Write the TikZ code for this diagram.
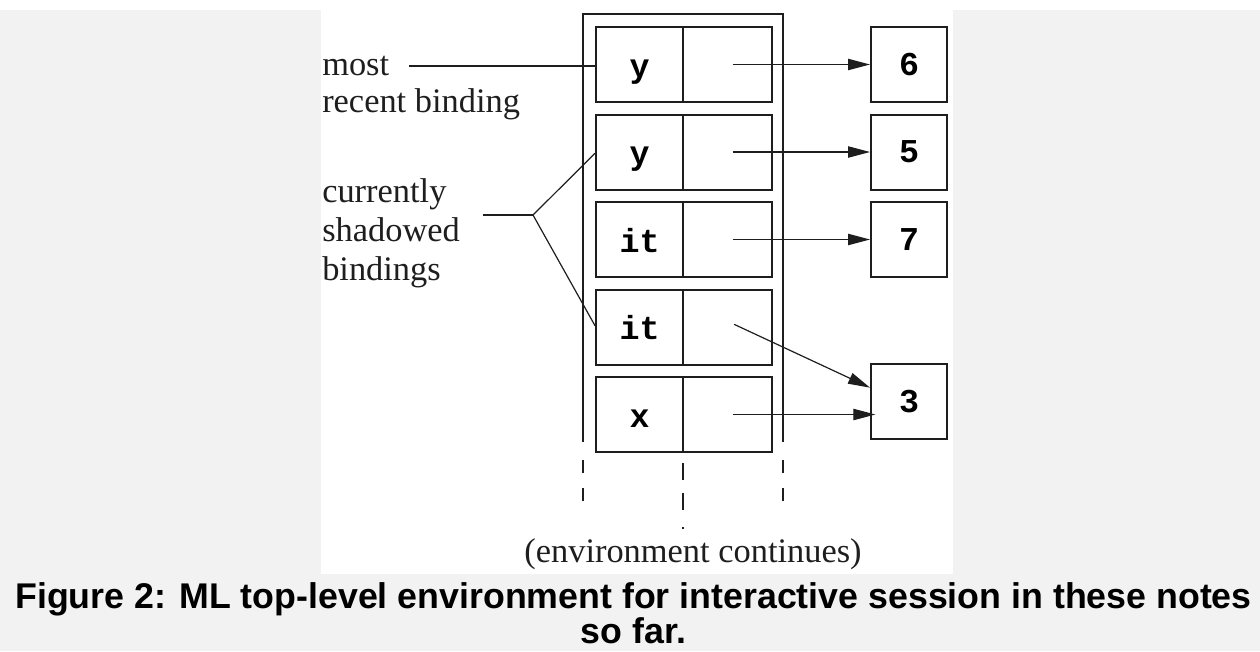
\documentclass[tikz,border=0pt]{standalone}
\usepackage{fontspec}
\setmainfont{Liberation Serif}
\setmonofont{Liberation Mono}
\newfontfamily\capfont{Liberation Sans}
\usetikzlibrary{arrows.meta,calc}
\definecolor{pagegray}{HTML}{F2F2F2}
\definecolor{ink}{HTML}{1E1E1E}
\begin{document}
\begin{tikzpicture}[x=0.75pt,y=-0.75pt,
  boxline/.style={draw=ink,line width=1.5pt},
  namecell/.style={boxline,inner sep=0pt,minimum width=65.25pt,minimum height=56.25pt,
     font=\ttfamily\bfseries\fontsize{25pt}{25pt}\selectfont,text height=18.75pt,text depth=0pt},
  ptrcell/.style={boxline,inner sep=0pt,minimum width=66.75pt,minimum height=56.25pt},
  valbox/.style={boxline,inner sep=0pt,minimum width=57pt,minimum height=56.25pt,
     font=\ttfamily\bfseries\fontsize{25pt}{25pt}\selectfont,text height=15.75pt,text depth=0pt},
  conn/.style={draw=ink,line width=0.9pt},
  ptrarrow/.style={conn,-{Triangle[length=16.5pt,width=8.5pt]}},
  lbl/.style={anchor=base west,inner sep=0pt,text=ink,font=\fontsize{25.8pt}{29pt}\selectfont},
  dashline/.style={draw=ink,line width=1.5pt},
  captxt/.style={anchor=base,inner sep=0pt,font=\capfont\bfseries\fontsize{26.8pt}{32pt}\selectfont}]
\useasboundingbox (0,0) rectangle (1260,651);
\fill[pagegray] (0,0) rectangle (1260,651);
\fill[white] (0,0) rectangle (1260,10);
\fill[white] (321,10) rectangle (953,574);

% outer frame (open at the bottom)
\coordinate (fbl) at (583,442);
\coordinate (ftl) at (583,14);
\coordinate (ftr) at (783,14);
\coordinate (fbr) at (783,442);
\draw[boxline] (fbl) -- (ftl) -- (ftr) -- (fbr);

% binding rows
\node[namecell] (r1n) at (639.5,64.5) {y};
\node[ptrcell]  (r1p) at (727.5,64.5) {};
\node[namecell] (r2n) at (639.5,152) {y};
\node[ptrcell]  (r2p) at (727.5,152) {};
\node[namecell] (r3n) at (639.5,239.5) {it};
\node[ptrcell]  (r3p) at (727.5,239.5) {};
\node[namecell] (r4n) at (639.5,327) {it};
\node[ptrcell]  (r4p) at (727.5,327) {};
\node[namecell] (r5n) at (639.5,414.5) {x};
\node[ptrcell]  (r5p) at (727.5,414.5) {};

% values
\node[valbox] (v6) at (909,64.5) {6};
\node[valbox] (v5) at (909,152) {5};
\node[valbox] (v7) at (909,239.5) {7};
\node[valbox] (v3) at (909,401.5) {3};

% pointers
\draw[ptrarrow] ([xshift=4pt]r1p.center) -- (v6.west);
\draw[ptrarrow] ([xshift=4pt]r2p.center) -- (v5.west);
\draw[ptrarrow] ([xshift=4pt]r3p.center) -- (v7.west);
\draw[ptrarrow] ([xshift=5pt,yshift=2pt]r4p.center) -- ($(v3.north west)!0.32!(v3.south west)$);
\draw[ptrarrow] ([xshift=4pt]r5p.center) -- ([xshift=4pt]r5p.center -| v3.west);

% left labels
\node[lbl] (most) at (322,75) {most};
\node[lbl] (recent) at (322,112) {recent binding};
\node[lbl] (cur) at (322,202) {currently};
\node[lbl] (shad) at (322,241) {shadowed};
\node[lbl] (bind) at (322,280) {bindings};

\coordinate (m0) at (409,66);
\draw[conn] (m0) -- (m0 -| r1n.west);
\coordinate (s0) at (483,215);
\coordinate (sj) at (533,215);
\draw[conn] (s0) -- (sj);
\draw[conn] (sj) -- ([yshift=-1pt]r2n.west);
\draw[conn] (sj) -- ([yshift=1pt]r4n.west);

% continuation
\draw[dashline,dash pattern=on 9.75pt off 11.25pt] (583,460) -- (583,502);
\draw[dashline,dash pattern=on 9.75pt off 11.25pt] (783,460) -- (783,502);
\draw[dashline,dash pattern=on 12.75pt off 9.75pt on 12.75pt off 12.75pt on 1.5pt off 10pt] (683,463) -- (683,529);
\node[anchor=base,inner sep=0pt,text=ink,font=\fontsize{25.8pt}{29pt}\selectfont] (cont) at (693,562) {(environment continues)};

% caption
\node[captxt] (cap1) at (633.5,608) {Figure 2: ML top-level environment for interactive session in these notes};
\node[captxt] (cap2) at (633.5,643) {so far.};
\end{tikzpicture}
\end{document}
